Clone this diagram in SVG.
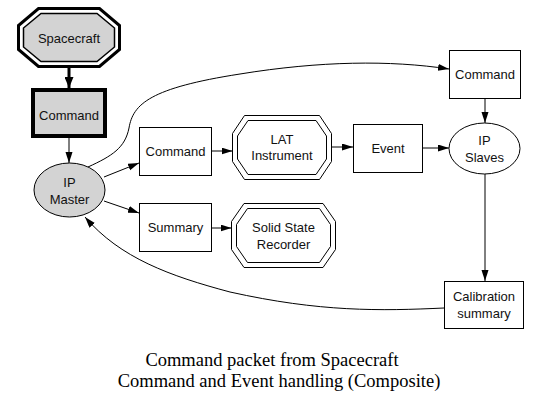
<svg xmlns="http://www.w3.org/2000/svg" width="543" height="407" viewBox="0 0 543 407">
<defs>
<marker id="ah" markerUnits="userSpaceOnUse" markerWidth="12" markerHeight="8" refX="11" refY="3.5" orient="auto">
<path d="M0,0 L11,3.5 L0,7 z" fill="#000"/>
</marker>
<marker id="ahb" markerUnits="userSpaceOnUse" markerWidth="12" markerHeight="9" refX="11" refY="4.5" orient="auto">
<path d="M0,0 L11,4.5 L0,9 z" fill="#000"/>
</marker>
</defs>
<style>
text{font-family:"Liberation Sans",Arial,sans-serif;font-size:13px;fill:#111;text-anchor:middle}
.cap{font-family:"Liberation Serif","Times New Roman",serif;font-size:18.5px;fill:#000}
.box{fill:#fff;stroke:#000;stroke-width:1}
.oct{fill:#fff;stroke:#000;stroke-width:1}
.edge{fill:none;stroke:#000;stroke-width:1;marker-end:url(#ah)}
</style>
<rect width="543" height="407" fill="#fff"/>
<g id="connectors">
<line x1="69" y1="68" x2="69" y2="88" stroke="#000" stroke-width="3" marker-end="url(#ahb)"/>
<line class="edge" x1="69" y1="138" x2="69" y2="163"/>
<line class="edge" x1="104" y1="177" x2="139" y2="163"/>
<line class="edge" x1="104" y1="201" x2="139" y2="213"/>
<line class="edge" x1="212" y1="151" x2="232.5" y2="151"/>
<line class="edge" x1="212" y1="228" x2="231.5" y2="228"/>
<line class="edge" x1="331.5" y1="147" x2="353" y2="147"/>
<line class="edge" x1="422" y1="148" x2="449" y2="148"/>
<line class="edge" x1="485" y1="98" x2="485" y2="123"/>
<line class="edge" x1="485" y1="174" x2="485" y2="281"/>
<path class="edge" d="M88,167 C112,156 125,148 129,128 C133,104 150,88 240,74 C320,61 390,60 449,69"/>
<path class="edge" d="M444,308 C380,311 320,312 230,292 C170,276 120,258 85,217"/>
</g>
<g id="spacecraft">
<polygon points="38.5,8.5 99.5,8.5 119.5,25.5 119.5,49.5 99.5,66.5 38.5,66.5 18.5,49.5 18.5,25.5" fill="#fff" stroke="#000" stroke-width="3"/>
<polygon points="41,13.5 97,13.5 114.5,28 114.5,47 97,61.5 41,61.5 23.5,47 23.5,28" fill="#d3d3d3" stroke="#000" stroke-width="1.5"/>
<text x="69" y="43">Spacecraft</text>
</g>
<g id="command-sc">
<rect x="33" y="90" width="72" height="46" fill="#d3d3d3" stroke="#000" stroke-width="4"/>
<text x="69" y="120">Command</text>
</g>
<g id="ip-master">
<ellipse cx="69.5" cy="190" rx="35.5" ry="27" fill="#d3d3d3" stroke="#000" stroke-width="1"/>
<text x="69.5" y="187">IP</text>
<text x="69.5" y="204">Master</text>
</g>
<g id="command-mid">
<rect class="box" x="139.5" y="127.5" width="72" height="48"/>
<text x="175.5" y="156">Command</text>
</g>
<g id="summary">
<rect class="box" x="139.5" y="203.5" width="72" height="48"/>
<text x="175.5" y="232">Summary</text>
</g>
<g id="lat">
<polygon class="oct" points="244.5,115.5 319.5,115.5 331.5,133.5 331.5,161.5 319.5,179.5 244.5,179.5 232.5,161.5 232.5,133.5"/>
<polygon class="oct" points="248,120.5 316,120.5 326.5,136 326.5,159 316,174.5 248,174.5 237.5,159 237.5,136"/>
<text x="282" y="144">LAT</text>
<text x="282" y="160">Instrument</text>
</g>
<g id="ssr">
<polygon class="oct" points="244,203.5 323,203.5 335.5,221.5 335.5,249.5 323,267.5 244,267.5 231.5,249.5 231.5,221.5"/>
<polygon class="oct" points="247.5,208.5 319.5,208.5 330.5,224.5 330.5,246.5 319.5,262.5 247.5,262.5 236.5,246.5 236.5,224.5"/>
<text x="283.5" y="232">Solid State</text>
<text x="283.5" y="249">Recorder</text>
</g>
<g id="event">
<rect class="box" x="353.5" y="124.5" width="69" height="48"/>
<text x="388" y="153">Event</text>
</g>
<g id="command-right">
<rect class="box" x="449.5" y="50.5" width="71" height="48"/>
<text x="485" y="79">Command</text>
</g>
<g id="ip-slaves">
<ellipse cx="484.5" cy="148.5" rx="35.5" ry="25.5" fill="#fff" stroke="#000" stroke-width="1"/>
<text x="484.5" y="145">IP</text>
<text x="484.5" y="162">Slaves</text>
</g>
<g id="calibration">
<rect class="box" x="444.5" y="281.5" width="79" height="47"/>
<text x="484" y="301">Calibration</text>
<text x="484" y="318">summary</text>
</g>
<text class="cap" x="272" y="366">Command packet from Spacecraft</text>
<text class="cap" x="279" y="387">Command and Event handling (Composite)</text>
</svg>
